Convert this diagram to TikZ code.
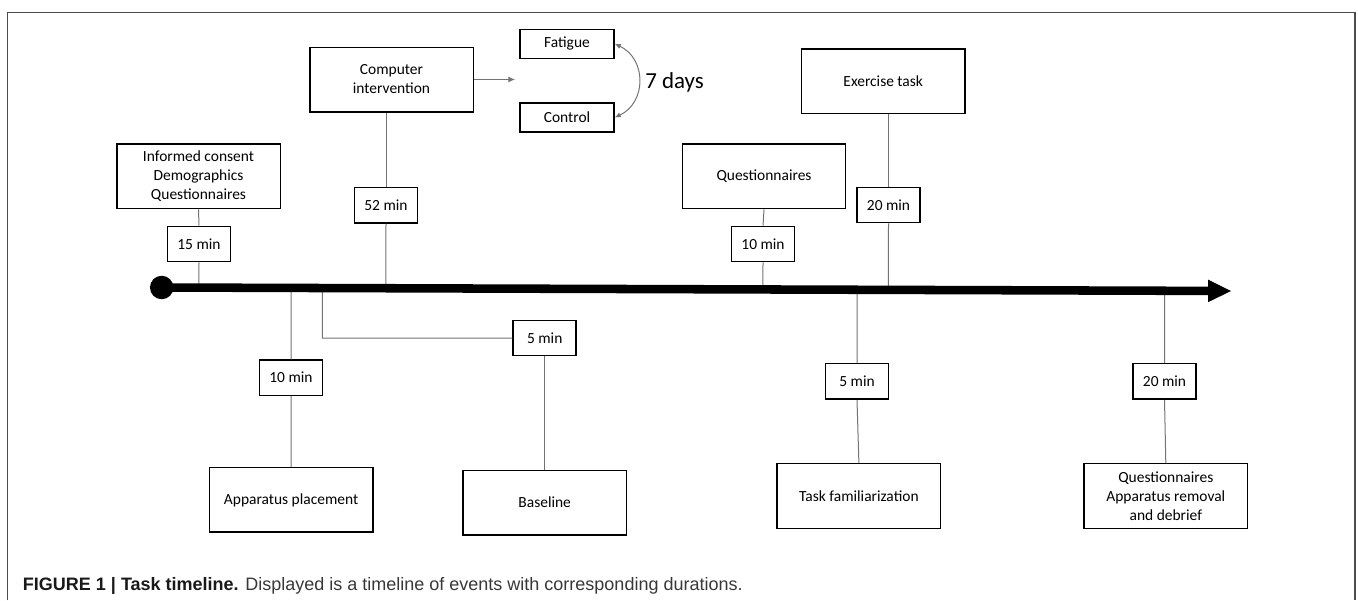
\documentclass[tikz,border=0pt]{standalone}
\usepackage{fontspec}
\setmainfont{Carlito}
\newfontfamily\capfont{Liberation Sans}
\usetikzlibrary{arrows.meta,calc}
\begin{document}
\begin{tikzpicture}[x=0.75pt,y=-0.75pt,
  boxtext/.style={font=\fontsize{11.6pt}{14.25pt}\selectfont, align=center, inner sep=0pt},
  evbox/.style={boxtext, draw, line width=1.1pt, minimum width=122.6pt, minimum height=48.4pt},
  grpbox/.style={boxtext, draw, line width=1.1pt, minimum width=70.5pt, minimum height=21.75pt},
  minbox/.style={boxtext, draw, line width=1.1pt, minimum width=47.25pt, minimum height=26.5pt},
  conn/.style={draw=black!55, line width=0.75pt},
  frameline/.style={draw=black!70, line width=1pt},
  twoway/.style={{Latex[length=4.5pt,width=4pt]}-{Latex[length=4.5pt,width=4pt]}}
]
\useasboundingbox (0,0) rectangle (1358,600);
\draw[frameline] (7.5,600) -- (7.5,12.5) -- (1355,12.5) -- (1355,600);

% event boxes
\node[evbox] (ic) at (198.5,176.4) {Informed consent\\Demographics\\Questionnaires};
\node[evbox] (ci) at (391.5,79.5) {Computer\\intervention};
\node[grpbox] (fat) at (567,43.8) {Fatigue};
\node[grpbox] (con) at (567,117.5) {Control};
\node[evbox] (qu) at (764,176.4) {Questionnaires};
\node[evbox] (ex) at (883.2,81.2) {Exercise task};
\node[evbox] (ap) at (291.1,499.9) {Apparatus placement};
\node[evbox] (bl) at (544.7,502.5) {Baseline};
\node[evbox] (tf) at (858.9,496) {Task familiarization};
\node[evbox] (qf) at (1165.8,496) {Questionnaires\\Apparatus removal\\and debrief};

% duration boxes
\node[minbox] (m15) at (199,244) {15 min};
\node[minbox] (m52) at (386,205.2) {52 min};
\node[minbox] (m10a) at (763,244) {10 min};
\node[minbox] (m20a) at (888.5,205) {20 min};
\node[minbox] (m10b) at (291,377.7) {10 min};
\node[minbox] (m5a) at (544.7,338) {5 min};
\node[minbox] (m5b) at (857,381.4) {5 min};
\node[minbox] (m20b) at (1164.5,381.4) {20 min};

% timeline coordinates
\coordinate (tls) at (161.7,287.5);
\coordinate (tle) at (1209,290.9);
\coordinate (tend) at (1231,291);
\coordinate (bk) at (322.3,338);
\coordinate (cie) at (515,79.5);

% connectors (top)
\draw[conn] (ic.south) -- (m15.north);
\draw[conn] (m15.south) -- ($(tls)!(m15.south)!(tend)$);
\draw[conn] (m52.north) -- (m52.north |- ci.south);
\draw[conn] (m52.south) -- ($(tls)!(m52.south)!(tend)$);
\draw[conn] (qu.south) -- (m10a.north);
\draw[conn] (m10a.south) -- ($(tls)!(m10a.south)!(tend)$);
\draw[conn] (m20a.north) -- (m20a.north |- ex.south);
\draw[conn] (m20a.south) -- ($(tls)!(m20a.south)!(tend)$);
% connectors (bottom)
\draw[conn] ($(tls)!(m10b.north)!(tend)$) -- (m10b.north);
\draw[conn] (m10b.south) -- (ap.north);
\draw[conn] ($(tls)!(bk)!(tend)$) -- (bk) -- (m5a.west);
\draw[conn] (m5a.south) -- (bl.north);
\draw[conn] ($(tls)!(m5b.north)!(tend)$) -- (m5b.north);
\draw[conn] (m5b.south) -- (tf.north);
\draw[conn] ($(tls)!(m20b.north)!(tend)$) -- (m20b.north);
\draw[conn] (m20b.south) -- (qf.north);

% intervention arrow and 7 days
\draw[conn, -{Latex[length=5pt,width=4.5pt]}] (ci.east) -- (cie);
\draw[conn, twoway] (fat.east) .. controls +(32,15) and +(32,-15) .. (con.east);
\node[anchor=base west, inner sep=0pt, font=\fontsize{17.2pt}{20pt}\selectfont] (days) at (645,88.3) {7 days};

% timeline
\draw[line width=6.4pt] (tls) -- (tle);
\fill (tls) circle[radius=8.8pt];
\fill ($(tle)+(-1,-11.3)$) -- (tend) -- ($(tle)+(-1,11.3)$) -- cycle;

% caption
\node[anchor=base west, inner sep=0pt, text=black!78, font=\capfont\fontsize{13.5pt}{15pt}\selectfont] (cap) at (22.7,590) {\textcolor{black!90}{\textbf{FIGURE 1 | Task timeline.}} Displayed is a timeline of events with corresponding durations.};
\end{tikzpicture}
\end{document}
